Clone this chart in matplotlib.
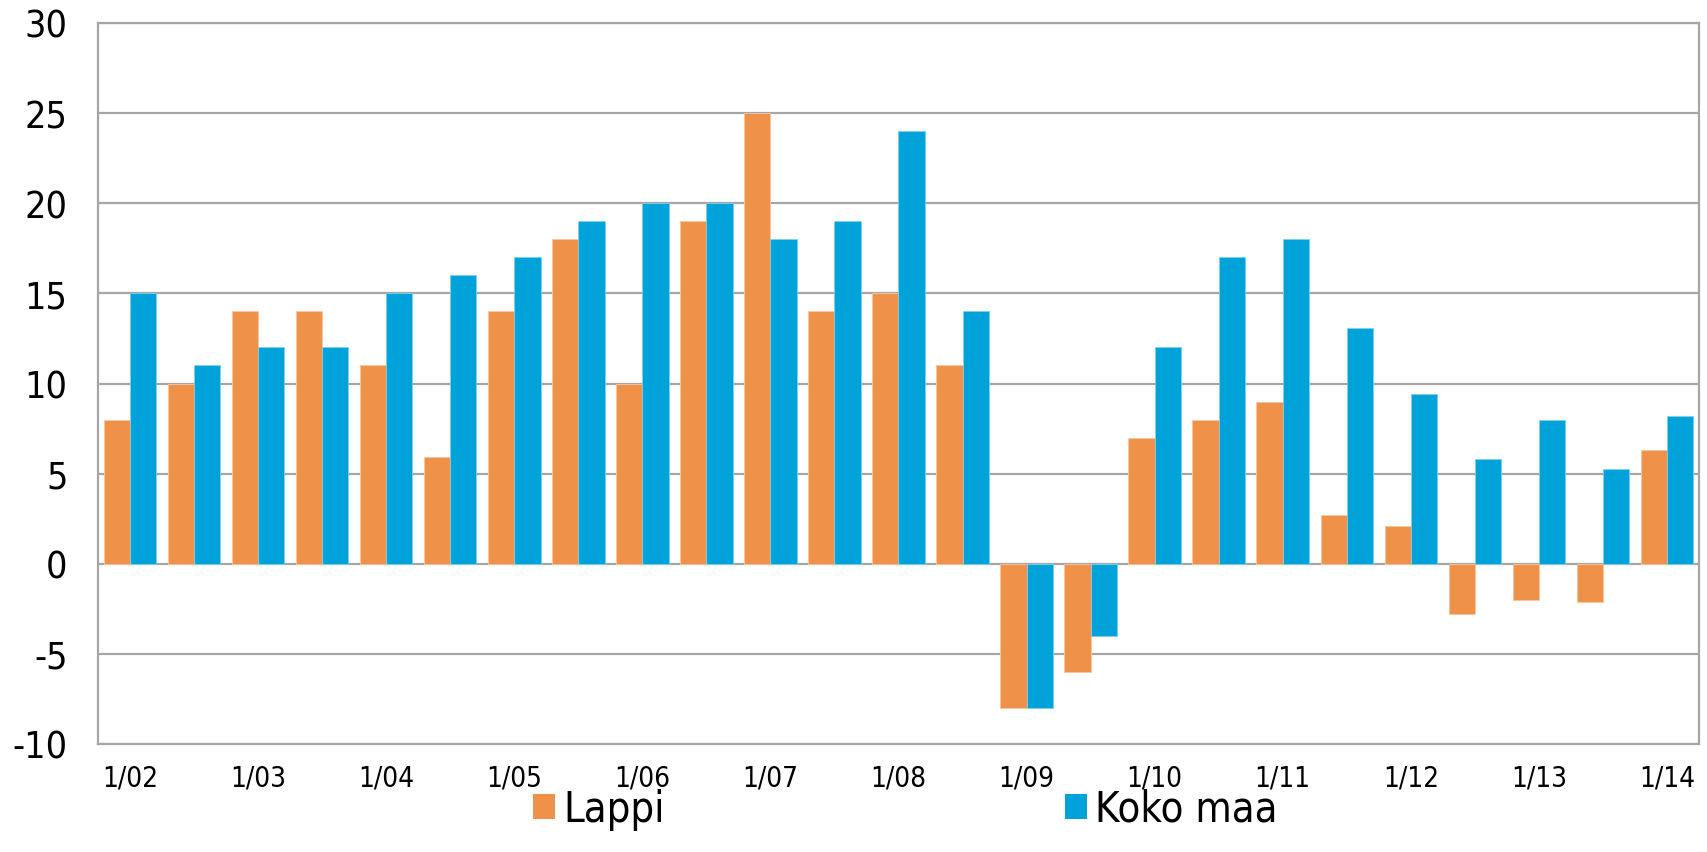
import matplotlib
matplotlib.use("Agg")
import matplotlib.pyplot as plt
import numpy as np
from matplotlib import font_manager
from matplotlib.patches import Patch

names = {f.name for f in font_manager.fontManager.ttflist}
fam = "Liberation Sans Narrow" if "Liberation Sans Narrow" in names else "DejaVu Sans"
plt.rcParams["font.family"] = [fam, "DejaVu Sans"]
plt.rcParams["font.stretch"] = "condensed"

periods = ["1/02", "", "1/03", "", "1/04", "", "1/05", "", "1/06", "", "1/07", "", "1/08", "",
           "1/09", "", "1/10", "", "1/11", "", "1/12", "", "1/13", "", "1/14"]
lappi = [8, 10, 14, 14, 11, 5.9, 14, 18, 10, 19, 25, 14, 15, 11, -8, -6, 7, 8, 9, 2.7, 2.1, -2.8, -2.0, -2.1, 6.3]
koko_maa = [15, 11, 12, 12, 15, 16, 17, 19, 20, 20, 18, 19, 24, 14, -8, -4, 12, 17, 18, 13.1, 9.4, 5.8, 8.0, 5.25, 8.2]
series_names = ["Lappi", "Koko maa"]
yticks = [-10, -5, 0, 5, 10, 15, 20, 25, 30]

c_orange = "#F0914A"
c_blue = "#00A3D9"
grid_c = "#A6A6A6"

fig = plt.figure(figsize=(17.08, 8.53), dpi=100)
ax = fig.add_axes([98/1708, 1 - 745/853, (1699-98)/1708, (745-24)/853])

x = np.arange(len(periods))
w = 0.41
ax.bar(x - w/2, lappi, w, color=c_orange, edgecolor="#F7C8A4", linewidth=0.6, zorder=3)
ax.bar(x + w/2, koko_maa, w, color=c_blue, edgecolor="#80D1EC", linewidth=0.6, zorder=3)

ax.set_xlim(-0.5, len(periods) - 0.5)
ax.set_ylim(-10, 30)
ax.set_yticks(yticks)
ax.set_yticklabels([str(v) for v in yticks], fontsize=27)
ax.set_xticks(x)
ax.set_xticklabels(periods, fontsize=20)
ax.tick_params(axis="both", length=0)
ax.tick_params(axis="y", pad=22)
ax.tick_params(axis="x", pad=14)
for v in yticks:
    ax.axhline(v, color=grid_c, linewidth=1.6, zorder=1)
for s in ax.spines.values():
    s.set_color(grid_c)
    s.set_linewidth(1.6)

handles = [Patch(facecolor=c_orange, edgecolor="none"), Patch(facecolor=c_blue, edgecolor="none")]
fig.legend(handles, series_names, loc="center", bbox_to_anchor=(0.53, 43/853), ncol=2,
           frameon=False, fontsize=30, handlelength=0.53, handleheight=0.53,
           handletextpad=0.2, columnspacing=9.6)

fig.savefig("out.png", dpi=100)
